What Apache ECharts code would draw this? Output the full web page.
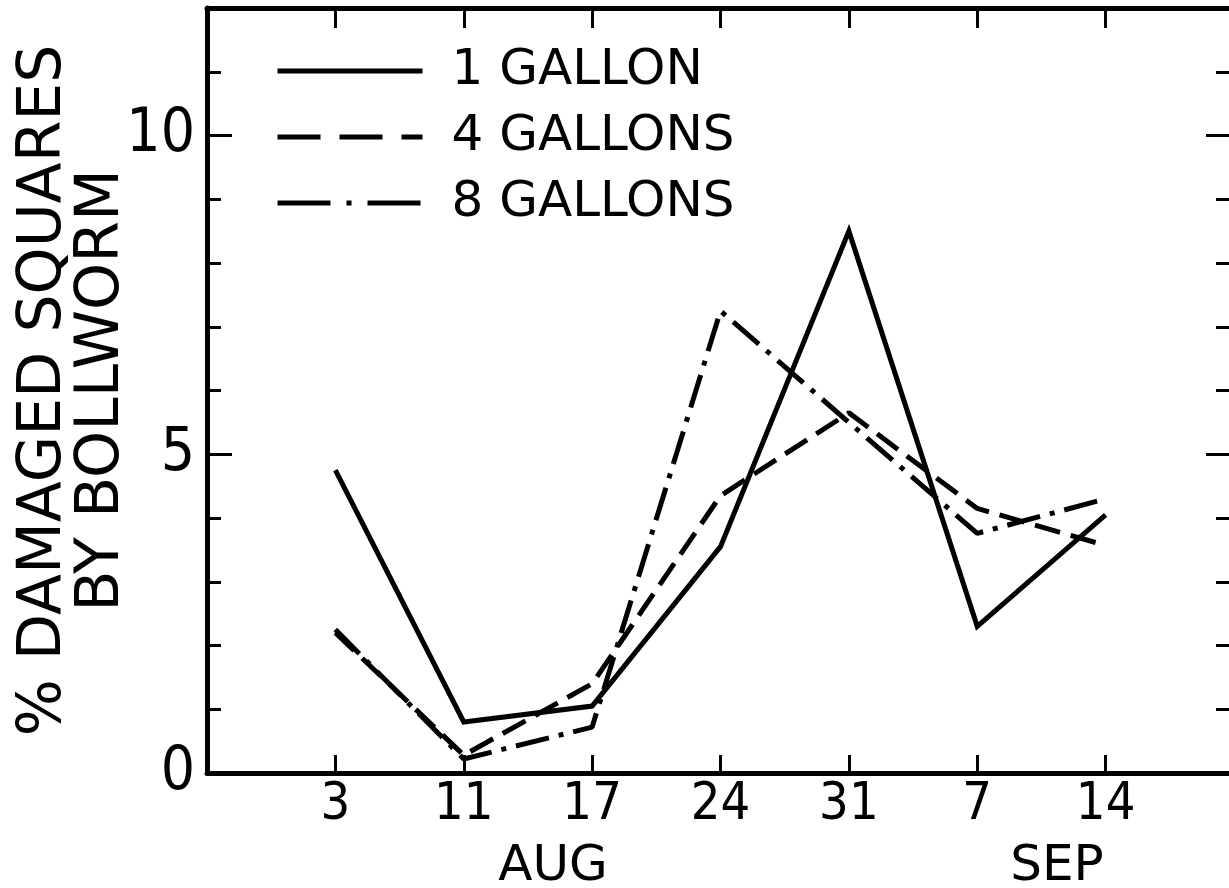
<!DOCTYPE html>
<html>
<head>
<meta charset="utf-8">
<script src="https://cdn.jsdelivr.net/npm/echarts@6/dist/echarts.min.js"></script>
<style>
  html, body { margin: 0; padding: 0; background: #fff; }
  #chart { width: 1229px; height: 888px; }
</style>
</head>
<body>
<div id="chart"></div>
<script>
// ---- data ----
const dates = ['3', '11', '17', '24', '31', '7', '14'];
const oneGallon = [4.75, 0.8, 1.05, 3.55, 8.5, 2.3, 4.05];
const fourGallons = [2.2, 0.28, 1.4, 4.35, 5.65, 4.15, 3.57];
const eightGallons = [2.25, 0.22, 0.72, 7.25, 5.5, 3.76, 4.3];
const seriesNames = ['1 GALLON', '4 GALLONS', '8 GALLONS'];
const yTickLabels = [0, 5, 10];
const months = ['AUG', 'SEP'];
const yTitle = '% DAMAGED SQUARES\nBY BOLLWORM';

const FONT = 'DejaVu Sans';
const NARROW = '"Liberation Sans Narrow", "DejaVu Sans Condensed", "DejaVu Sans", sans-serif';

function pts(arr) { return arr.map((v, i) => [i + 1, v]); }

const chart = echarts.init(document.getElementById('chart'), null, { renderer: 'canvas' });

const baseY = { type: 'value', min: 0, max: 12, splitLine: { show: false } };
const baseX = { type: 'value', min: 0, max: 8, interval: 1, splitLine: { show: false } };
const axLine = { show: true, onZero: false, lineStyle: { color: '#000', width: 5 } };
const noLine = { show: false, onZero: false };

const option = {
  backgroundColor: '#ffffff',
  animation: false,
  grid: { left: 207, right: -5, top: 8, bottom: 115, containLabel: false, outerBoundsMode: 'none' },
  legend: {
    orient: 'vertical',
    left: 270,
    top: 40,
    itemWidth: 145,
    itemHeight: 20,
    itemGap: 14,
    itemStyle: { opacity: 0 },
    lineStyle: { width: 5, color: '#000' },
    textStyle: {
      fontFamily: FONT, fontSize: 50, color: '#000', lineHeight: 52,
      padding: [0, 0, 0, 24]
    },
    data: [
      { name: seriesNames[0], lineStyle: { type: 'solid' } },
      { name: seriesNames[1], lineStyle: { type: [43, 19] } },
      { name: seriesNames[2], lineStyle: { type: [53, 16, 5, 16] } }
    ]
  },
  xAxis: [
    Object.assign({}, baseX, {
      position: 'bottom',
      axisLine: axLine,
      axisTick: { show: true, inside: true, length: 18, lineStyle: { color: '#000', width: 3 } },
      axisLabel: {
        show: true, margin: 6, color: '#000', fontFamily: NARROW, fontSize: 52,
        formatter: v => (v >= 1 && v <= dates.length) ? dates[v - 1] : ''
      }
    }),
    Object.assign({}, baseX, {
      position: 'top',
      axisLine: axLine,
      axisTick: { show: true, inside: true, length: 20, lineStyle: { color: '#000', width: 3 } },
      axisLabel: { show: false }
    })
  ],
  yAxis: [
    Object.assign({}, baseY, {
      position: 'left', interval: 1,
      axisLine: axLine,
      axisTick: { show: true, inside: true, length: 14, lineStyle: { color: '#000', width: 3 } },
      axisLabel: {
        show: true, margin: 12, color: '#000', fontFamily: NARROW, fontSize: 60,
        formatter: v => yTickLabels.indexOf(v) >= 0 ? String(v) : ''
      },
      name: yTitle,
      nameLocation: 'middle',
      nameRotate: 90,
      nameGap: 76,
      nameMoveOverlap: false,
      nameTextStyle: { fontFamily: FONT, fontSize: 60, color: '#000', lineHeight: 58 }
    }),
    Object.assign({}, baseY, {
      position: 'left', interval: 5,
      axisLine: noLine,
      axisTick: { show: true, inside: true, length: 25, lineStyle: { color: '#000', width: 3 } },
      axisLabel: { show: false }
    }),
    Object.assign({}, baseY, {
      position: 'right', interval: 1,
      axisLine: axLine,
      axisTick: { show: true, inside: true, length: 18, lineStyle: { color: '#000', width: 3 } },
      axisLabel: { show: false }
    }),
    Object.assign({}, baseY, {
      position: 'right', interval: 5,
      axisLine: noLine,
      axisTick: { show: true, inside: true, length: 28, lineStyle: { color: '#000', width: 3 } },
      axisLabel: { show: false }
    })
  ],
  graphic: [
    { type: 'text', x: 553, y: 842, style: { text: months[0], font: '50px ' + FONT, fill: '#000', align: 'center', textAlign: 'center' } },
    { type: 'text', x: 1057, y: 842, style: { text: months[1], font: '50px ' + FONT, fill: '#000', align: 'center', textAlign: 'center' } }
  ],
  series: [
    {
      name: seriesNames[0], type: 'line', xAxisIndex: 0, yAxisIndex: 0,
      data: pts(oneGallon), symbol: 'none', showSymbol: false,
      lineStyle: { color: '#000', width: 5, type: 'solid', join: 'miter' }
    },
    {
      name: seriesNames[1], type: 'line', xAxisIndex: 0, yAxisIndex: 0,
      data: pts(fourGallons), symbol: 'none', showSymbol: false,
      lineStyle: { color: '#000', width: 5, type: [26, 11] }
    },
    {
      name: seriesNames[2], type: 'line', xAxisIndex: 0, yAxisIndex: 0,
      data: pts(eightGallons), symbol: 'none', showSymbol: false,
      lineStyle: { color: '#000', width: 5, type: [34, 10, 5, 10] }
    }
  ]
};

chart.setOption(option);
</script>
</body>
</html>
